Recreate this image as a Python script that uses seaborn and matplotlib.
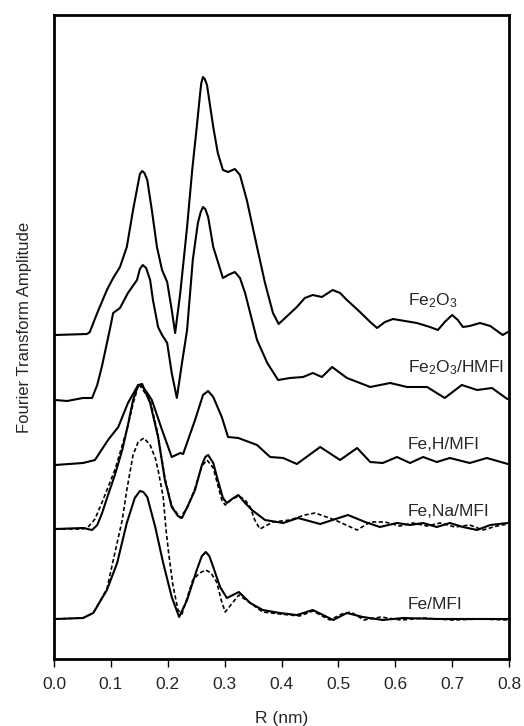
import matplotlib
matplotlib.use("Agg")
import matplotlib.pyplot as plt
import seaborn as sns

# stacked FT magnitudes (arbitrary units, curves already offset)
fe2o3_r = [0.002, 0.058, 0.063, 0.076, 0.093, 0.104, 0.116, 0.128, 0.139, 0.148, 0.151, 0.155,
           0.159, 0.164, 0.172, 0.181, 0.190, 0.199, 0.207, 0.213, 0.222, 0.234, 0.243, 0.251,
           0.257, 0.259, 0.262, 0.265, 0.269, 0.280, 0.288, 0.297, 0.306, 0.318, 0.327, 0.339,
           0.357, 0.371, 0.385, 0.395, 0.427, 0.441, 0.455, 0.471, 0.490, 0.503, 0.515, 0.538,
           0.556, 0.568, 0.582, 0.596, 0.617, 0.638, 0.661, 0.675, 0.687, 0.700, 0.710, 0.719,
           0.731, 0.749, 0.767, 0.789, 0.798]
fe2o3_y = [324, 325, 327, 346, 369, 381, 392, 412, 449, 476, 485, 488,
           486, 479, 449, 412, 389, 377, 349, 326, 366, 432, 489, 532,
           566, 576, 582, 580, 574, 532, 506, 489, 487, 490, 484, 459,
           412, 376, 346, 335, 352, 361, 364, 362, 369, 366, 359, 347,
           337, 331, 337, 340, 338, 336, 332, 329, 337, 344, 339, 332,
           333, 336, 333, 324, 327]

hmfi_r = [0.002, 0.023, 0.051, 0.067, 0.076, 0.084, 0.098, 0.104, 0.116, 0.130, 0.146, 0.151,
          0.156, 0.162, 0.169, 0.174, 0.183, 0.190, 0.199, 0.207, 0.216, 0.225, 0.234, 0.244,
          0.253, 0.258, 0.262, 0.266, 0.271, 0.280, 0.297, 0.306, 0.318, 0.327, 0.336, 0.357,
          0.375, 0.394, 0.415, 0.438, 0.455, 0.471, 0.489, 0.515, 0.538, 0.556, 0.591, 0.621,
          0.656, 0.687, 0.717, 0.744, 0.770, 0.797]
hmfi_y = [259, 258, 261, 261, 274, 292, 329, 346, 351, 366, 379, 390,
          394, 391, 379, 359, 332, 324, 316, 286, 261, 296, 329, 399,
          436, 447, 452, 450, 442, 412, 381, 384, 387, 381, 366, 319,
          296, 279, 281, 282, 286, 282, 292, 281, 276, 272, 276, 272,
          272, 261, 274, 269, 271, 260]

feh_r = [0.002, 0.051, 0.072, 0.095, 0.113, 0.130, 0.148, 0.155, 0.164, 0.172, 0.190, 0.207,
         0.222, 0.227, 0.248, 0.262, 0.271, 0.280, 0.295, 0.306, 0.324, 0.357, 0.380, 0.403,
         0.427, 0.468, 0.503, 0.533, 0.556, 0.578, 0.603, 0.626, 0.649, 0.673, 0.696, 0.731,
         0.761, 0.798]
feh_y = [194, 196, 199, 219, 232, 256, 274, 273, 266, 259, 229, 202,
         206, 205, 239, 264, 268, 262, 242, 222, 221, 214, 202, 201,
         195, 212, 199, 211, 197, 196, 202, 196, 202, 197, 201, 196,
         201, 195]

fena_r = [0.002, 0.051, 0.067, 0.076, 0.084, 0.095, 0.107, 0.120, 0.130, 0.139, 0.148, 0.155,
          0.169, 0.183, 0.195, 0.207, 0.218, 0.225, 0.236, 0.248, 0.260, 0.266, 0.271, 0.280,
          0.288, 0.297, 0.304, 0.313, 0.324, 0.336, 0.348, 0.371, 0.403, 0.429, 0.468, 0.517,
          0.547, 0.573, 0.603, 0.626, 0.649, 0.673, 0.696, 0.719, 0.744, 0.767, 0.797]
fena_y = [130, 131, 129, 134, 145, 164, 184, 209, 234, 259, 274, 275,
          256, 222, 179, 152, 143, 141, 154, 169, 194, 202, 204, 196,
          179, 161, 156, 160, 164, 156, 149, 139, 136, 141, 135, 144,
          137, 132, 136, 134, 136, 132, 136, 132, 129, 134, 136]

fena_fit_r = [0.002, 0.050, 0.060, 0.072, 0.084, 0.107, 0.128, 0.139, 0.149, 0.169, 0.183, 0.195,
              0.207, 0.222, 0.236, 0.248, 0.260, 0.269, 0.280, 0.288, 0.295, 0.301, 0.313, 0.325,
              0.336, 0.345, 0.353, 0.362, 0.385, 0.415, 0.441, 0.459, 0.494, 0.533, 0.556, 0.582,
              0.608, 0.631, 0.656, 0.679, 0.705, 0.731, 0.754, 0.779, 0.797]
fena_fit_y = [130, 130, 132, 140, 156, 189, 229, 255, 275, 259, 224, 181,
              153, 141, 153, 171, 193, 199, 191, 174, 159, 154, 160, 163,
              159, 152, 139, 130, 137, 139, 144, 146, 139, 129, 137, 137,
              133, 136, 133, 136, 132, 134, 129, 133, 135]

fe_r = [0.002, 0.051, 0.069, 0.093, 0.111, 0.128, 0.142, 0.151, 0.157, 0.164, 0.178, 0.192,
        0.207, 0.220, 0.234, 0.251, 0.260, 0.267, 0.273, 0.280, 0.292, 0.304, 0.325, 0.345,
        0.367, 0.397, 0.427, 0.455, 0.491, 0.515, 0.543, 0.578, 0.614, 0.673, 0.731, 0.798]
fe_y = [40, 41, 46, 69, 96, 136, 161, 168, 167, 162, 132, 96,
        62, 42, 59, 89, 103, 107, 103, 92, 72, 61, 67, 56,
        49, 46, 44, 49, 39, 46, 42, 39, 41, 40, 40, 40]

fe_fit_r = [0.002, 0.051, 0.069, 0.093, 0.107, 0.120, 0.128, 0.139, 0.148, 0.158, 0.169, 0.178,
            0.183, 0.192, 0.197, 0.202, 0.209, 0.218, 0.225, 0.244, 0.256, 0.267, 0.276, 0.286,
            0.294, 0.301, 0.325, 0.345, 0.367, 0.397, 0.432, 0.455, 0.485, 0.506, 0.522, 0.545,
            0.575, 0.610, 0.650, 0.700, 0.750, 0.798]
fe_fit_y = [40, 41, 46, 70, 106, 139, 169, 204, 217, 221, 214, 201,
            189, 162, 129, 104, 74, 49, 45, 79, 86, 89, 86, 77,
            59, 47, 64, 56, 47, 45, 43, 48, 39, 45, 47, 39,
            42, 39, 41, 39, 40, 39]

labels = ["Fe$_2$O$_3$", "Fe$_2$O$_3$/HMFI", "Fe,H/MFI", "Fe,Na/MFI", "Fe/MFI"]
label_y = [354, 287, 210, 143, 50]

sns.set_theme(style="ticks")
plt.rcParams['font.family'] = ['Liberation Sans', 'DejaVu Sans']
plt.rcParams['mathtext.fontset'] = 'custom'
plt.rcParams['mathtext.rm'] = 'Liberation Sans'
plt.rcParams['mathtext.it'] = 'Liberation Sans'

fig = plt.figure(figsize=(5.24, 7.26), dpi=100)
ax = fig.add_axes([54 / 524, 67 / 726, 455 / 524, 644 / 726])

for r, y in [(fe2o3_r, fe2o3_y), (hmfi_r, hmfi_y), (feh_r, feh_y), (fena_r, fena_y), (fe_r, fe_y)]:
    sns.lineplot(x=r, y=y, ax=ax, color="black", lw=1.5, solid_joinstyle="round")
for r, y in [(fena_fit_r, fena_fit_y), (fe_fit_r, fe_fit_y)]:
    sns.lineplot(x=r, y=y, ax=ax, color="black", lw=1.2, linestyle=(0, (2.5, 1.5)),
                 dash_joinstyle="round")

for lab, yy in zip(labels, label_y):
    ax.text(0.622, yy, lab, fontsize=12.5, va="baseline", ha="left")

ax.set_xlim(0, 0.8)
ax.set_ylim(0, 644)
ax.set_xticks([i / 10 for i in range(9)])
ax.set_xticklabels([f"{i / 10:.1f}" for i in range(9)], fontsize=12.5)
ax.set_yticks([])
ax.tick_params(axis="x", direction="out", length=6, width=1, pad=7, color="black")
for s in ax.spines.values():
    s.set_linewidth(2)
    s.set_color("black")

ax.set_xlabel("R (nm)", fontsize=12.5)
ax.xaxis.set_label_coords(0.5, -0.08)
ax.set_ylabel("Fourier Transform Amplitude", fontsize=12)
ax.yaxis.set_label_coords(-0.048, 0.515)

fig.savefig("out.png", dpi=100)
